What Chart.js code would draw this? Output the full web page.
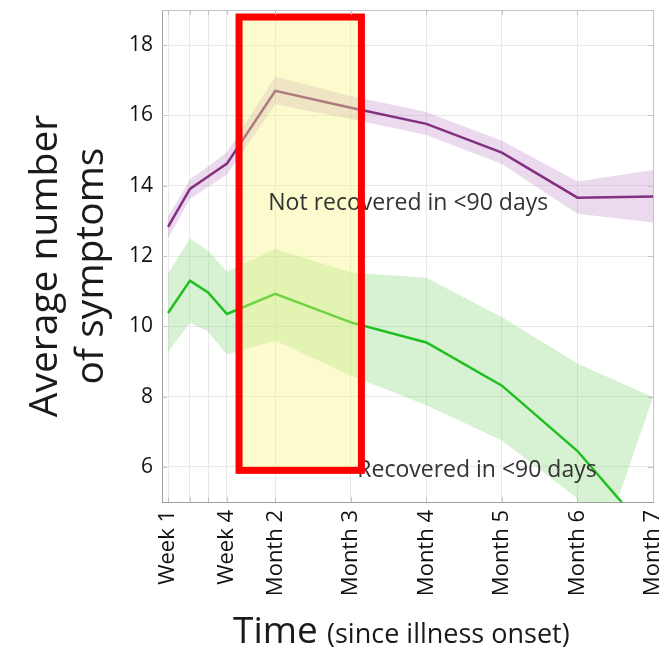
<!DOCTYPE html>
<html>
<head>
<meta charset="utf-8">
<script src="https://cdn.jsdelivr.net/npm/chart.js@4.4.1/dist/chart.umd.min.js"></script>
<style>
  html, body { margin: 0; padding: 0; background: #fff; }
  #wrap { width: 666px; height: 653px; }
</style>
</head>
<body>
<div id="wrap"><canvas id="chart" width="666" height="653"></canvas></div>
<script>
// x positions: months since onset, the first weeks squeezed in on the left
const xPos = [0.58, 0.87, 1.11, 1.36, 2, 3, 4, 5, 6, 7];
const xLabels = ['Week 1', '', '', 'Week 4', 'Month 2', 'Month 3', 'Month 4', 'Month 5', 'Month 6', 'Month 7'];
const yTicks = [6, 8, 10, 12, 14, 16, 18];

// not recovered in <90 days (mean + band)
const notRecovered   = [12.83, 13.91, 14.26, 14.63, 16.70, 16.22, 15.76, 14.94, 13.66, 13.69];
const notRecoveredHi = [13.12, 14.18, 14.55, 14.95, 17.10, 16.55, 16.10, 15.28, 14.12, 14.45];
const notRecoveredLo = [12.50, 13.62, 13.96, 14.32, 16.32, 15.90, 15.44, 14.62, 13.20, 12.95];

// recovered in <90 days (mean + band)
const recovered   = [10.38, 11.30, 10.96, 10.35, 10.92, 10.11, 9.54, 8.31, 6.45, 3.96];
const recoveredHi = [11.50, 12.50, 12.15, 11.55, 12.20, 11.53, 11.38, 10.26, 8.94, 7.98];
const recoveredLoX = [0.58, 0.87, 1.11, 1.36, 2, 3, 4, 5, 6, 6.2];
const recoveredLo = [9.27, 10.10, 9.85, 9.20, 9.59, 8.60, 7.75, 6.75, 5.10, 3.00];

// highlighted window
const highlightX = [1.52, 3.14];
const highlightY = [5.9, 18.8];

const FONT = '"Open Sans", "Noto Sans", sans-serif';

function line(ys) {
  return ys.map((v, i) => ({ x: xPos[i], y: v }));
}

// closed polygon: upper edge left->right, lower edge right->left
function band(hi, loX, lo) {
  const pts = hi.map((v, i) => ({ x: xPos[i], y: v }));
  for (let i = lo.length - 1; i >= 0; i--) pts.push({ x: loX[i], y: lo[i] });
  return pts;
}

// keep the plot box where it is in the picture
function noPad(s) {
  s.paddingTop = 0; s.paddingBottom = 0; s.paddingLeft = 0; s.paddingRight = 0;
}

const overlay = {
  id: 'overlay',
  afterDatasetsDraw(chart) {
    const { ctx, chartArea: a, scales: { x, y } } = chart;
    const l = x.getPixelForValue(highlightX[0]);
    const r = x.getPixelForValue(highlightX[1]);
    const t = y.getPixelForValue(highlightY[1]);
    const b = y.getPixelForValue(highlightY[0]);
    ctx.save();
    ctx.fillStyle = 'rgba(245,245,125,0.38)';
    ctx.fillRect(l, t, r - l, b - t);

    ctx.fillStyle = '#333';
    ctx.font = '23px ' + FONT;
    ctx.textAlign = 'center';
    ctx.textBaseline = 'alphabetic';
    ctx.fillText('Not recovered in <90 days', x.getPixelForValue(3.76), y.getPixelForValue(13.3));
    ctx.fillText('Recovered in <90 days', x.getPixelForValue(4.67), y.getPixelForValue(5.72));

    ctx.strokeStyle = '#ff0000';
    ctx.lineWidth = 7;
    ctx.strokeRect(l, t, r - l, b - t);

    // top and right edges of the box, with small inward ticks
    ctx.strokeStyle = '#c4c4c4';
    ctx.lineWidth = 1;
    ctx.beginPath();
    ctx.moveTo(a.left, a.top + 0.5);
    ctx.lineTo(a.right + 0.5, a.top + 0.5);
    ctx.lineTo(a.right + 0.5, a.bottom);
    xPos.forEach(v => {
      const px = Math.round(x.getPixelForValue(v)) + 0.5;
      ctx.moveTo(px, a.top); ctx.lineTo(px, a.top + 5);
      ctx.moveTo(px, a.bottom); ctx.lineTo(px, a.bottom - 5);
    });
    yTicks.forEach(v => {
      const py = Math.round(y.getPixelForValue(v)) + 0.5;
      ctx.moveTo(a.right, py); ctx.lineTo(a.right - 5, py);
      ctx.moveTo(a.left, py); ctx.lineTo(a.left + 5, py);
    });
    ctx.stroke();
    ctx.restore();
  },
  afterDraw(chart) {
    const ctx = chart.ctx;
    ctx.save();
    ctx.fillStyle = '#1a1a1a';
    ctx.textBaseline = 'alphabetic';
    ctx.textAlign = 'center';
    ctx.font = '39px ' + FONT;
    ctx.save(); ctx.translate(57, 266); ctx.rotate(-Math.PI / 2);
    ctx.fillText('Average number', 0, 0); ctx.restore();
    ctx.save(); ctx.translate(103, 266); ctx.rotate(-Math.PI / 2);
    ctx.fillText('of symptoms', 0, 0); ctx.restore();

    ctx.textAlign = 'left';
    ctx.font = '37px ' + FONT;
    ctx.fillText('Time', 233, 643);
    ctx.font = '27px ' + FONT;
    ctx.fillText('(since illness onset)', 327, 643);
    ctx.restore();
  }
};

new Chart(document.getElementById('chart'), {
  type: 'line',
  data: {
    datasets: [
      {
        label: 'Not recovered in <90 days',
        data: line(notRecovered),
        borderColor: '#82307f',
        borderWidth: 2.5,
        pointRadius: 0,
        tension: 0,
        fill: false
      },
      {
        label: 'Recovered in <90 days',
        data: line(recovered),
        borderColor: '#1fbf1f',
        borderWidth: 2.5,
        pointRadius: 0,
        tension: 0,
        fill: false
      },
      {
        label: 'band not recovered',
        data: band(notRecoveredHi, xPos, notRecoveredLo),
        borderWidth: 0,
        borderColor: 'rgba(0,0,0,0)',
        backgroundColor: 'rgba(190,130,200,0.3)',
        pointRadius: 0,
        tension: 0,
        fill: 'shape'
      },
      {
        label: 'band recovered',
        data: band(recoveredHi, recoveredLoX, recoveredLo),
        borderWidth: 0,
        borderColor: 'rgba(0,0,0,0)',
        backgroundColor: 'rgba(110,210,95,0.28)',
        pointRadius: 0,
        tension: 0,
        fill: 'shape'
      }
    ]
  },
  options: {
    responsive: false,
    animation: false,
    events: [],
    layout: { padding: { top: 10, right: 13, left: 0, bottom: 0 } },
    plugins: { legend: { display: false }, tooltip: { enabled: false } },
    scales: {
      x: {
        type: 'linear',
        min: 0.5,
        max: 7,
        afterBuildTicks: s => { s.ticks = xPos.map(v => ({ value: v })); },
        afterFit: s => { s.height = 151; noPad(s); },
        ticks: {
          autoSkip: false,
          minRotation: 90,
          maxRotation: 90,
          padding: 8,
          color: '#111',
          font: { family: FONT, size: 22 },
          callback: (v, i) => xLabels[i]
        },
        grid: { color: '#e9e9e9', drawTicks: false },
        border: { color: '#a0a0a0' }
      },
      y: {
        min: 5,
        max: 19,
        afterBuildTicks: s => { s.ticks = yTicks.map(v => ({ value: v })); },
        afterFit: s => { s.width = 162; noPad(s); },
        ticks: {
          padding: 9,
          color: '#111',
          font: { family: FONT, size: 21 }
        },
        grid: { color: '#e9e9e9', drawTicks: false },
        border: { color: '#a0a0a0' }
      }
    }
  },
  plugins: [overlay]
});
</script>
</body>
</html>
